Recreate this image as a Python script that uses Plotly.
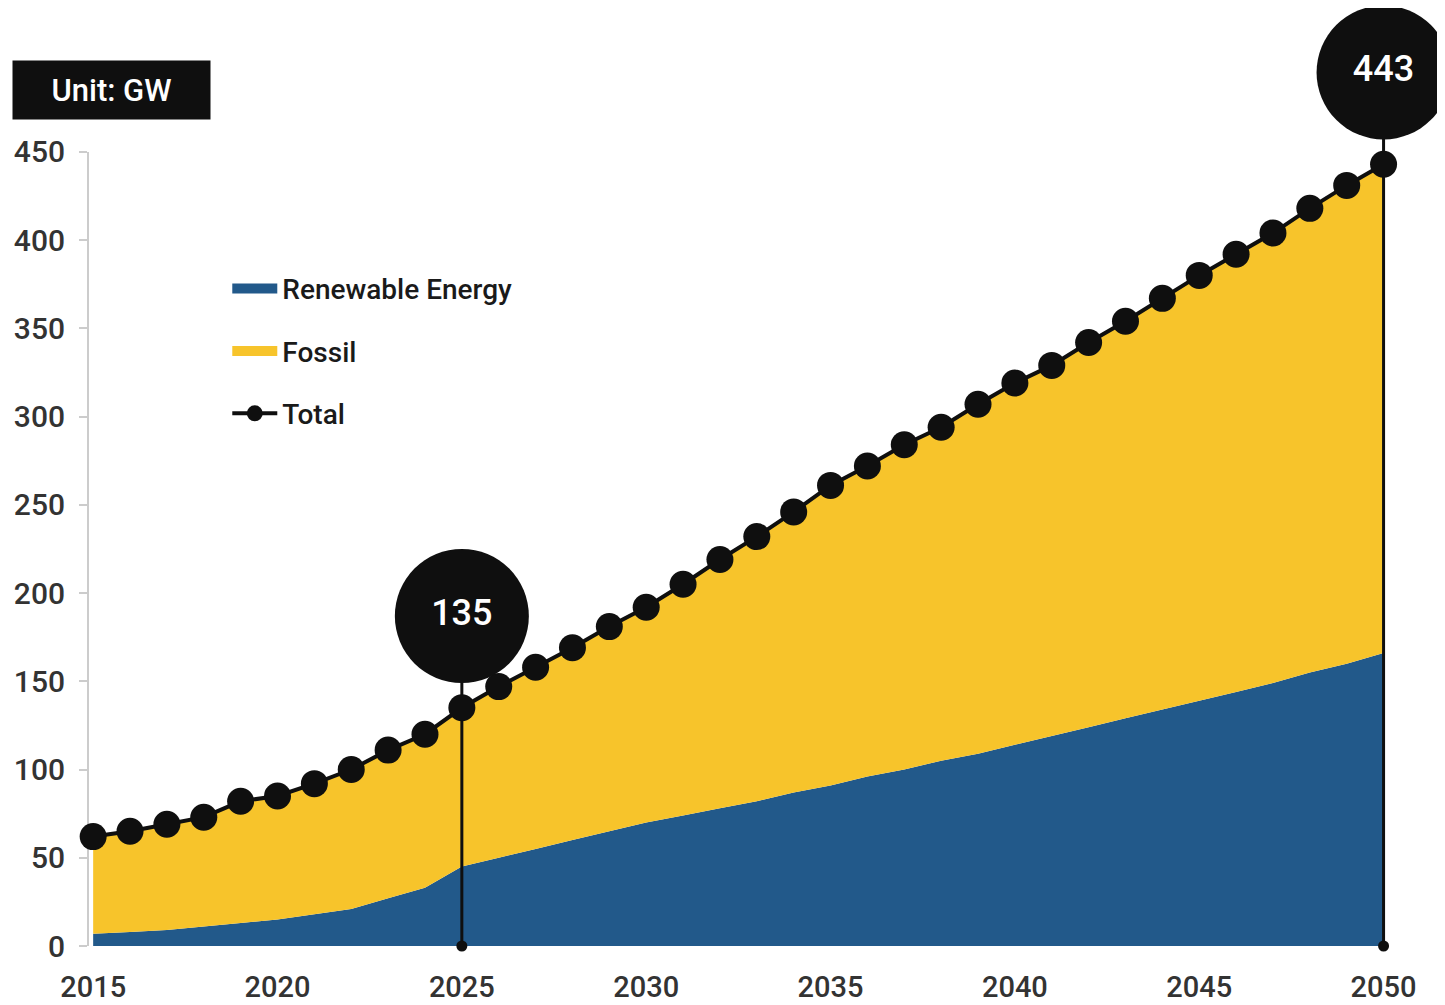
import plotly.graph_objects as go

years = list(range(2015, 2051))
total = [62, 65, 69, 73, 82, 85, 92, 100, 111, 120,
         135, 147, 158, 169, 181, 192, 205, 219, 232, 246,
         261, 272, 284, 294, 307, 319, 329, 342, 354, 367,
         380, 392, 404, 418, 431, 443]
renewable = [7, 8, 9, 11, 13, 15, 18, 21, 27, 33,
             45, 50, 55, 60, 65, 70, 74, 78, 82, 87,
             91, 96, 100, 105, 109, 114, 119, 124, 129, 134,
             139, 144, 149, 155, 160, 166]
fossil = [55, 57, 60, 62, 69, 70, 74, 79, 84, 87,
          90, 97, 103, 109, 116, 122, 131, 141, 150, 159,
          170, 176, 184, 189, 198, 205, 210, 218, 225, 233,
          241, 248, 255, 263, 271, 277]
highlight_years = [2025, 2050]
y_ticks = [0, 50, 100, 150, 200, 250, 300, 350, 400, 450]
x_ticks = [2015, 2020, 2025, 2030, 2035, 2040, 2045, 2050]

BLUE = "#22598a"
YELLOW = "#f7c42b"
INK = "#0f0f0f"
FONT = "Roboto, Liberation Sans, sans-serif"
BUBBLE_OFFSET = 52  # bubble centre above the highlighted point, in GW

fig = go.Figure()

# stacked areas
fig.add_trace(go.Scatter(
    x=years, y=renewable, name="Renewable Energy", stackgroup="one",
    mode="none", fillcolor=BLUE, showlegend=False, legendgroup="a"))
fig.add_trace(go.Scatter(
    x=years, y=fossil, name="Fossil", stackgroup="one",
    mode="none", fillcolor=YELLOW, showlegend=False, legendgroup="b"))

# legend swatches (thick lines)
fig.add_trace(go.Scatter(
    x=[None], y=[None], mode="lines", name="Renewable Energy",
    line=dict(color=BLUE, width=14), legendgroup="a"))
fig.add_trace(go.Scatter(
    x=[None], y=[None], mode="lines", name="Fossil",
    line=dict(color=YELLOW, width=14), legendgroup="b"))

hl_vals = [total[years.index(y)] for y in highlight_years]
for hy, hv in zip(highlight_years, hl_vals):
    fig.add_trace(go.Scatter(
        x=[hy, hy], y=[0, hv + BUBBLE_OFFSET], mode="lines",
        line=dict(color=INK, width=3), showlegend=False,
        hoverinfo="skip", cliponaxis=False))
    fig.add_trace(go.Scatter(
        x=[hy], y=[0], mode="markers",
        marker=dict(color=INK, size=11), showlegend=False,
        hoverinfo="skip", cliponaxis=False))

fig.add_trace(go.Scatter(
    x=years, y=total, name="Total", mode="lines+markers",
    line=dict(color=INK, width=4),
    marker=dict(color=INK, size=27),
    legendgroup="c", cliponaxis=False))

fig.add_trace(go.Scatter(
    x=highlight_years, y=[v + BUBBLE_OFFSET for v in hl_vals],
    mode="markers+text", text=[str(v) for v in hl_vals],
    textposition="middle center",
    textfont=dict(color="white", size=36, family=FONT, weight=500),
    marker=dict(color=INK, size=134),
    showlegend=False, hoverinfo="skip", cliponaxis=False))

# y axis line only from 0 to 450
fig.add_shape(type="line", xref="paper", yref="y", x0=0, x1=0,
              y0=y_ticks[0], y1=y_ticks[-1],
              line=dict(color="#cccccc", width=2), layer="below")

fig.add_annotation(
    text="Unit: GW", xref="paper", yref="paper", x=-0.058, y=0.984,
    xanchor="left", yanchor="top", showarrow=False,
    width=195, height=56, bgcolor=INK,
    font=dict(color="white", size=31, family=FONT, weight=500))

fig.update_layout(
    width=1437, height=997,
    margin=dict(l=80, r=43, t=38, b=59, autoexpand=False),
    paper_bgcolor="white", plot_bgcolor="white",
    font=dict(family=FONT, color="#333333", size=29),
    showlegend=True,
    legend=dict(x=0.106, y=0.758, xanchor="left", yanchor="top",
                traceorder="grouped", tracegroupgap=23, itemwidth=45,
                font=dict(size=28, color="#1a1a1a", family=FONT, weight=500),
                bgcolor="rgba(0,0,0,0)"),
    xaxis=dict(range=[2014.86, 2050.5], tickvals=x_ticks, automargin=False,
               showgrid=False, zeroline=False, showline=False,
               ticks="", ticklabelstandoff=21,
               tickfont=dict(size=29, color="#333333", weight=500)),
    yaxis=dict(range=[0, 510], tickvals=y_ticks, showgrid=False,
               automargin=False,
               zeroline=False, showline=False,
               ticks="outside", ticklen=8, tickcolor="#cccccc", tickwidth=2,
               ticklabelstandoff=8,
               tickfont=dict(size=30, color="#333333", weight=500)),
)

fig.write_html("out.html")
